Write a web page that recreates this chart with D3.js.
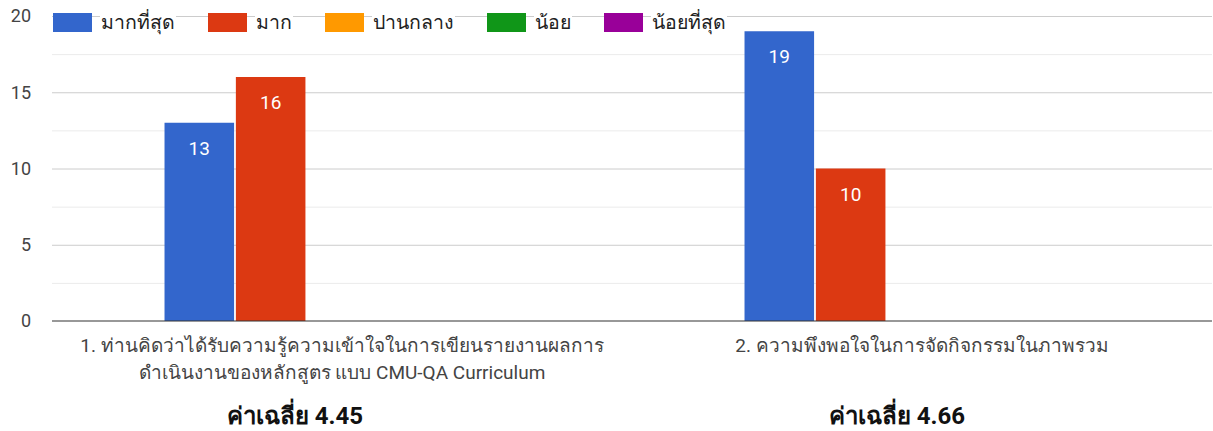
<!DOCTYPE html>
<html lang="th">
<head>
  <meta charset="utf-8">
  <title>ผลการประเมิน</title>
  <script src="https://d3js.org/d3.v7.min.js"></script>
</head>
<style>
  body { margin: 0; background: #fff; }
  svg { display: block; font-family: Roboto, Arial, "Noto Sans", sans-serif; }
</style>
<body>
  <div class="chart"></div>
</body>
<script>
// data
var categories = [
  ["1. ท่านคิดว่าได้รับความรู้ความเข้าใจในการเขียนรายงานผลการ", "ดำเนินงานของหลักสูตร แบบ CMU-QA Curriculum"],
  ["2. ความพึงพอใจในการจัดกิจกรรมในภาพรวม"]
];
var seriesNames = ["มากที่สุด", "มาก", "ปานกลาง", "น้อย", "น้อยที่สุด"];
var seriesColors = ["#3366cc", "#dc3912", "#ff9900", "#109618", "#990099"];
var mostValues = [13, 19];
var muchValues = [16, 10];
var midValues = [0, 0];
var lessValues = [0, 0];
var leastValues = [0, 0];
var averages = ["4.45", "4.66"];
var yTicks = [0, 5, 10, 15, 20];
var yMinorTicks = [2.5, 7.5, 12.5, 17.5];

var values = [mostValues, muchValues, midValues, lessValues, leastValues];

var W = 1213, H = 431;
var margin = { left: 52, right: 1, top: 16, bottom: 110 };

var svg = d3.select(".chart")
  .append("svg")
  .attr("width", W)
  .attr("height", H);

var catIdx = categories.map(function(d, i){ return i; });

var x0 = d3.scaleBand()
  .domain(catIdx)
  .range([margin.left, W - margin.right])
  .paddingInner(0.388)
  .paddingOuter(0.194);

var x1 = d3.scaleBand()
  .domain(seriesNames)
  .range([0, x0.bandwidth()])
  .paddingInner(0.025);

var y = d3.scaleLinear()
  .domain([0, 20])
  .range([H - margin.bottom, margin.top]);

// minor gridlines
svg.append("g")
  .attr("transform", "translate(" + margin.left + ",0)")
  .call(d3.axisLeft(y).tickValues(yMinorTicks).tickSize(-(W - margin.left - margin.right)).tickFormat(""))
  .call(function(g){ g.select(".domain").remove(); })
  .selectAll("line").attr("stroke", "#ebebeb");

// major gridlines
svg.append("g")
  .attr("transform", "translate(" + margin.left + ",0)")
  .call(d3.axisLeft(y).tickValues(yTicks.slice(1)).tickSize(-(W - margin.left - margin.right)).tickFormat(""))
  .call(function(g){ g.select(".domain").remove(); })
  .selectAll("line").attr("stroke", "#cccccc");

// y labels
var yAxis = svg.append("g")
  .attr("transform", "translate(" + margin.left + ",0)")
  .call(d3.axisLeft(y).tickValues(yTicks).tickSize(0).tickPadding(21));
yAxis.select(".domain").remove();
yAxis.selectAll("text")
  .attr("font-size", 18)
  .attr("font-family", "Roboto, Arial, sans-serif")
  .attr("fill", "#444");

// bars
var groups = svg.selectAll(".group")
  .data(catIdx)
  .enter().append("g")
  .attr("class", "group")
  .attr("transform", function(c){ return "translate(" + x0(c) + ",0)"; });

var bars = groups.selectAll(".bar")
  .data(function(c){
    return seriesNames.map(function(s, i){ return { s: s, i: i, v: values[i][c] }; });
  })
  .enter().filter(function(d){ return d.v > 0; });

bars.append("rect")
  .attr("class", "bar")
  .attr("x", function(d){ return x1(d.s); })
  .attr("y", function(d){ return y(d.v); })
  .attr("width", x1.bandwidth())
  .attr("height", function(d){ return y(0) - y(d.v); })
  .attr("fill", function(d){ return seriesColors[d.i]; });

bars.append("text")
  .attr("x", function(d){ return x1(d.s) + x1.bandwidth() / 2; })
  .attr("y", function(d){ return y(d.v) + 32; })
  .attr("text-anchor", "middle")
  .attr("font-size", 19)
  .attr("fill", "#fff")
  .text(function(d){ return d.v; });

// baseline
svg.append("line")
  .attr("x1", margin.left).attr("x2", W - margin.right)
  .attr("y1", y(0)).attr("y2", y(0))
  .attr("stroke", "#333").attr("stroke-width", 1.2);

// category labels
svg.selectAll(".cat")
  .data(catIdx)
  .enter().append("text")
  .attr("class", "cat")
  .attr("text-anchor", "middle")
  .attr("font-size", 19)
  .attr("fill", "#444")
  .each(function(c){
    var t = d3.select(this);
    categories[c].forEach(function(line, k){
      t.append("tspan")
        .attr("x", x0(c) + x0.bandwidth() / 2)
        .attr("y", y(0) + 31 + k * 27)
        .text(line);
    });
  });

// averages under the chart
var avgX = [295, 897];
svg.selectAll(".avg")
  .data(catIdx)
  .enter().append("text")
  .attr("class", "avg")
  .attr("x", function(c){ return avgX[c]; })
  .attr("y", 424)
  .attr("text-anchor", "middle")
  .attr("font-size", 24)
  .attr("font-weight", "bold")
  .attr("fill", "#111")
  .text(function(c){ return "ค่าเฉลี่ย " + averages[c]; });

// legend
var legend = svg.append("g").attr("class", "legend");
var lx = 53;
seriesNames.forEach(function(name, i){
  var item = legend.append("g");
  item.append("rect")
    .attr("x", lx).attr("y", 13)
    .attr("width", 39).attr("height", 19)
    .attr("fill", seriesColors[i]);
  var bg = item.append("rect").attr("fill", "#fff");
  var txt = item.append("text")
    .attr("x", lx + 48).attr("y", 29)
    .attr("font-size", 19.5)
    .attr("fill", "#222")
    .text(name);
  var bb = txt.node().getBBox();
  bg.attr("x", bb.x - 1).attr("y", bb.y).attr("width", bb.width + 2).attr("height", bb.height);
  lx = lx + 48 + bb.width + 33;
});
</script>
</html>
